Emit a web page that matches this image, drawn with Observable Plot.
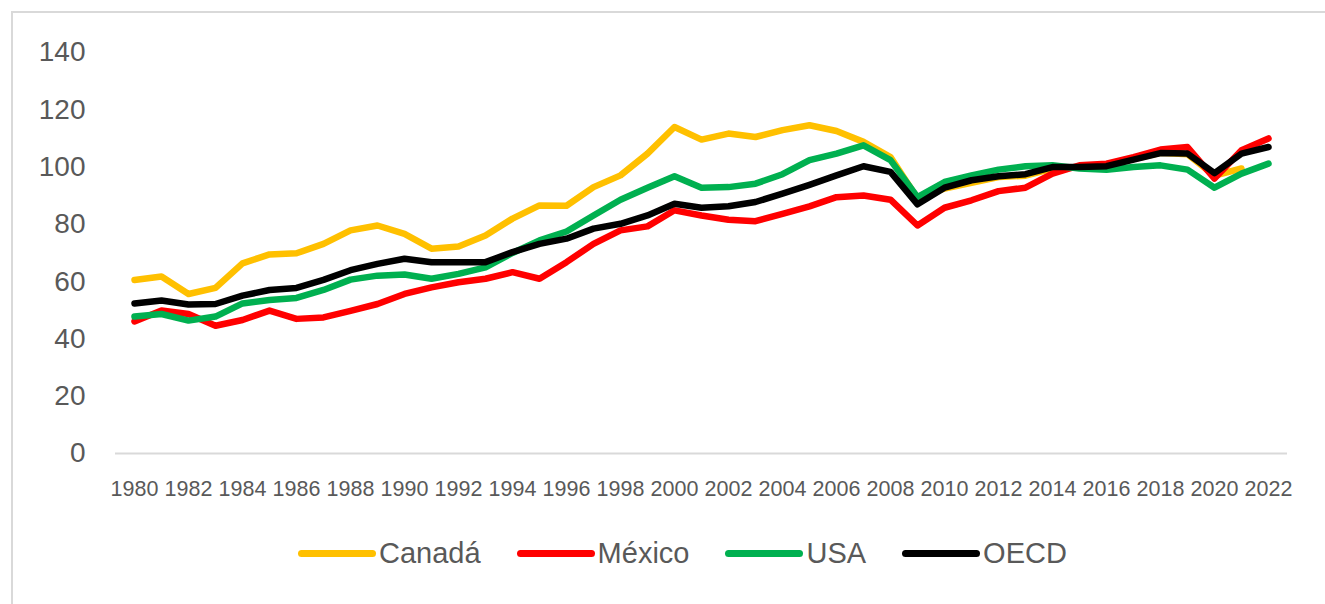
<!DOCTYPE html>
<html><head><meta charset="utf-8">
<script src="https://cdn.jsdelivr.net/npm/d3@7"></script>
<script src="https://cdn.jsdelivr.net/npm/@observablehq/plot@0.6"></script>
<style>
html,body{margin:0;padding:0;background:#fff;overflow:hidden;width:1325px;height:604px;}
#frame{position:absolute;left:11px;top:11px;width:1340px;height:640px;border:2px solid #d9d9d9;box-sizing:border-box;}
#chart{position:absolute;left:0;top:0;}
#legend{position:absolute;left:298px;top:535px;display:flex;align-items:center;font-family:"Liberation Sans",sans-serif;font-size:29px;line-height:36px;color:#595959;}
.item{display:flex;align-items:center;margin-right:36px}
.sw{width:78px;height:7px;border-radius:4px;margin-right:3px}
</style></head>
<body>
<div id="frame"></div>
<div id="chart"></div>
<div id="legend"></div>
<script>
const years = d3.range(1980, 2023);
const seriesNames = ["Canadá", "México", "USA", "OECD"];
const seriesColors = ["#FFC000", "#FF0000", "#00B050", "#000000"];
const yTicks = [0, 20, 40, 60, 80, 100, 120, 140];
const xTickYears = years.filter((d, i) => i % 2 === 0);

const canada = [60.6,61.8,55.7,57.8,66.4,69.5,69.9,73.2,77.9,79.6,76.7,71.5,72.3,76.1,82,86.6,86.5,93,97.1,104.7,114,109.6,111.7,110.5,112.9,114.6,112.6,108.8,103.5,89,92.5,94.5,96.5,97,99.5,100,100.5,102.8,105,104.5,97,99.5,null];
const mexico = [46.1,49.9,48.7,44.6,46.6,49.9,47,47.5,49.8,52.2,55.7,58,59.8,61,63.3,61,66.8,73.2,77.9,79.3,84.9,83.1,81.6,81.1,83.7,86.3,89.5,90.1,88.6,79.6,85.8,88.4,91.6,92.8,97.7,100.6,101.2,103.5,106.1,107,96,105.9,110];
const usa = [47.8,48.7,46.4,47.8,52.4,53.6,54.3,57.1,60.7,62.1,62.5,61,62.7,65,70,74.4,77.5,83.1,88.6,92.8,96.8,92.8,93,94.2,97.5,102.4,104.7,107.6,102.4,89.5,94.8,97.1,99.1,100.3,100.6,99.5,99.1,100,100.6,99.1,92.8,97.7,101.2];
const oecd = [52.4,53.4,52,52.2,55.1,57.1,57.8,60.6,64,66.2,68,66.8,66.8,66.8,70.3,73.2,75,78.5,80.2,83.1,87.2,85.8,86.3,87.8,90.7,93.8,97.1,100.3,98.3,87,92.8,95.4,96.8,97.5,100,100,100.3,102.6,104.9,104.7,97.9,104.7,107];

const allValues = [canada, mexico, usa, oecd];
const lineMarks = allValues.map((vals, si) =>
  Plot.line(years.map((y, i) => ({year: y, value: vals[i]})), {
    x: "year", y: "value", stroke: seriesColors[si], strokeWidth: 6.5,
    strokeLinejoin: "round", strokeLinecap: "round"
  })
);

const chart = Plot.plot({
  width: 1325, height: 520,
  marginLeft: 115, marginRight: 38, marginTop: 52, marginBottom: 67,
  style: {fontFamily: "Liberation Sans, sans-serif", color: "#595959", background: "transparent"},
  x: {type: "point", domain: years, padding: 0.5, label: null},
  y: {domain: [0, 140], label: null},
  marks: [
    Plot.axisY({ticks: yTicks, tickSize: 0, tickPadding: 30, fontSize: 28, tickFormat: d => d, label: null}),
    Plot.axisX({ticks: xTickYears, tickSize: 0, tickPadding: 27, fontSize: 21.5, tickFormat: d => String(d), label: null}),
    Plot.ruleY([0], {stroke: "#d9d9d9", strokeWidth: 2}),
    ...lineMarks
  ]
});
document.getElementById("chart").appendChild(chart);

const legend = document.getElementById("legend");
seriesNames.forEach((name, i) => {
  const item = document.createElement("div");
  item.className = "item";
  const sw = document.createElement("div");
  sw.className = "sw";
  sw.style.background = seriesColors[i];
  const t = document.createElement("span");
  t.textContent = name;
  item.appendChild(sw); item.appendChild(t);
  legend.appendChild(item);
});
</script>
</body></html>
